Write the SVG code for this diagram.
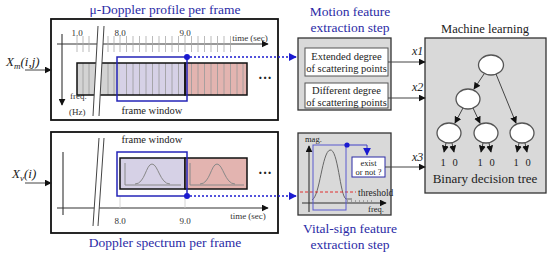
<svg xmlns="http://www.w3.org/2000/svg" width="550" height="254" viewBox="0 0 550 254" font-family="'Liberation Serif', 'DejaVu Serif', serif">
<style>
text{font-family:'Liberation Serif','DejaVu Serif',serif;fill:#222}
.title{font-size:13.5px;fill:#2b2ba6;text-anchor:middle}
.sm{font-size:9px;fill:#333}
.lbl{font-size:10.5px;text-anchor:middle}
.panel{fill:#fff;stroke:#111;stroke-width:1.8}
.gbox{fill:#d9d9d9;stroke:#333;stroke-width:1.3}
.wbox{fill:#fff;stroke:#555;stroke-width:1}
.tick{stroke:#aaa;stroke-width:0.8}
.ax{stroke:#333;stroke-width:1.1;fill:none}
.brk{stroke:#444;stroke-width:1;fill:none}
.win{fill:none;stroke:#2424b8;stroke-width:1.5}
.dot{fill:#1a1ad0}
.dots{stroke:#1a1ad0;stroke-width:1.4;stroke-dasharray:2,2;fill:none}
.conn{stroke:#444;stroke-width:1;fill:none}
.node{fill:#fff;stroke:#555;stroke-width:1.3}
.curve{fill:none;stroke:#888;stroke-width:1}
</style>
<defs>
<marker id="ah" viewBox="0 0 10 10" refX="9" refY="5" markerWidth="7" markerHeight="7" orient="auto" markerUnits="userSpaceOnUse"><path d="M0,0L10,5L0,10z" fill="#111"/></marker>
<marker id="ahb" viewBox="0 0 10 10" refX="9" refY="5" markerWidth="8" markerHeight="8" orient="auto" markerUnits="userSpaceOnUse"><path d="M0,0L10,5L0,10z" fill="#1a1ad0"/></marker>
</defs>

<!-- Top panel: micro-Doppler profile -->
<g id="micro-doppler">
<text class="title" x="165" y="14">μ-Doppler profile per frame</text>
<rect class="panel" x="51" y="19" width="227" height="101"/>
<line class="ax" x1="57" y1="44" x2="268" y2="44" marker-end="url(#ah)"/>
<g class="tick">
<line x1="77" y1="36" x2="77" y2="52"/><line x1="83" y1="36" x2="83" y2="52"/><line x1="89" y1="36" x2="89" y2="52"/>
<line x1="108" y1="36" x2="108" y2="52"/><line x1="114" y1="36" x2="114" y2="52"/><line x1="120" y1="36" x2="120" y2="52"/>
<line x1="126.5" y1="36" x2="126.5" y2="52"/><line x1="133" y1="36" x2="133" y2="52"/><line x1="139.5" y1="36" x2="139.5" y2="52"/>
<line x1="146" y1="36" x2="146" y2="52"/><line x1="152.5" y1="36" x2="152.5" y2="52"/><line x1="159" y1="36" x2="159" y2="52"/>
<line x1="165.5" y1="36" x2="165.5" y2="52"/><line x1="172" y1="36" x2="172" y2="52"/><line x1="178.5" y1="36" x2="178.5" y2="52"/>
<line x1="185" y1="36" x2="185" y2="52"/><line x1="191.5" y1="36" x2="191.5" y2="52"/><line x1="198" y1="36" x2="198" y2="52"/>
<line x1="204.5" y1="36" x2="204.5" y2="52"/><line x1="211" y1="36" x2="211" y2="52"/><line x1="217.5" y1="36" x2="217.5" y2="52"/>
<line x1="224" y1="36" x2="224" y2="52"/><line x1="230.5" y1="36" x2="230.5" y2="52"/>
</g>
<text class="sm" x="77" y="36" text-anchor="middle">1.0</text>
<text class="sm" x="120" y="36" text-anchor="middle">8.0</text>
<text class="sm" x="185" y="36" text-anchor="middle">9.0</text>
<text class="sm" x="250" y="41" text-anchor="middle" font-size="8.5">time (sec)</text>
<line class="ax" x1="62" y1="34" x2="62" y2="105" marker-end="url(#ah)"/>
<text class="sm" x="70" y="99" font-size="10">freq.</text>
<text class="sm" x="69" y="115" font-size="10">(Hz)</text>
<rect x="77" y="63" width="43" height="32" fill="#d3d3d3"/>
<rect x="120" y="63" width="65" height="32" fill="#d6d1e6"/>
<rect x="185" y="63" width="62" height="32" fill="#e3b4b0"/>
<g class="tick" style="stroke:#999">
<line x1="83" y1="63" x2="83" y2="95"/><line x1="89" y1="63" x2="89" y2="95"/>
<line x1="108" y1="63" x2="108" y2="95"/><line x1="114" y1="63" x2="114" y2="95"/>
<line x1="126.5" y1="63" x2="126.5" y2="95"/><line x1="133" y1="63" x2="133" y2="95"/><line x1="139.5" y1="63" x2="139.5" y2="95"/>
<line x1="146" y1="63" x2="146" y2="95"/><line x1="152.5" y1="63" x2="152.5" y2="95"/><line x1="159" y1="63" x2="159" y2="95"/>
<line x1="165.5" y1="63" x2="165.5" y2="95"/><line x1="172" y1="63" x2="172" y2="95"/><line x1="178.5" y1="63" x2="178.5" y2="95"/>
<line x1="191.5" y1="63" x2="191.5" y2="95"/><line x1="198" y1="63" x2="198" y2="95"/><line x1="204.5" y1="63" x2="204.5" y2="95"/>
<line x1="211" y1="63" x2="211" y2="95"/><line x1="217.5" y1="63" x2="217.5" y2="95"/><line x1="224" y1="63" x2="224" y2="95"/>
<line x1="230.5" y1="63" x2="230.5" y2="95"/><line x1="237" y1="63" x2="237" y2="95"/><line x1="243" y1="63" x2="243" y2="95"/>
</g>
<rect x="77" y="63" width="108" height="32" fill="none" stroke="#111" stroke-width="1.5"/>
<rect x="185" y="63" width="62" height="32" fill="none" stroke="#111" stroke-width="1.5"/>
<polygon points="98,26 104,26 99,116 93,116" fill="#fff"/>
<line class="brk" x1="98" y1="26" x2="93" y2="116"/>
<line class="brk" x1="104" y1="26" x2="99" y2="116"/>
<rect class="win" x="117" y="57" width="70" height="44"/>
<text x="152" y="114" font-size="10.5" text-anchor="middle">frame window</text>
<text x="265" y="83" font-size="14" text-anchor="middle" font-weight="bold">···</text>
</g>

<!-- Bottom panel: Doppler spectrum -->
<g id="doppler-spectrum">
<rect class="panel" x="51" y="132" width="227" height="101"/>
<text class="title" x="165" y="247">Doppler spectrum per frame</text>
<line class="ax" x1="63" y1="152" x2="63" y2="215"/>
<line class="ax" x1="57" y1="208" x2="268" y2="208" marker-end="url(#ah)"/>
<line x1="120" y1="196" x2="120" y2="208" stroke="#ccc" stroke-width="0.8"/>
<line x1="185" y1="196" x2="185" y2="208" stroke="#ccc" stroke-width="0.8"/>
<polygon points="99,138 104,138 98,226 93,226" fill="#fff"/>
<line class="brk" x1="99" y1="138" x2="93" y2="226"/>
<line class="brk" x1="104" y1="138" x2="98" y2="226"/>
<text class="sm" x="120" y="224" text-anchor="middle">8.0</text>
<text class="sm" x="185" y="224" text-anchor="middle">9.0</text>
<text class="sm" x="248" y="219" text-anchor="middle" font-size="8.5">time (sec)</text>
<text x="152" y="143" font-size="10.5" text-anchor="middle">frame window</text>
<rect x="120" y="158" width="65" height="31" fill="#d6d1e6" stroke="#111" stroke-width="1.5"/>
<rect x="185" y="158" width="62" height="31" fill="#e3b4b0" stroke="#111" stroke-width="1.5"/>
<path class="curve" d="M125,163V185H181M135,184C145,184 146,164 152,164C158,164 160,184 170,184"/>
<path class="curve" d="M190,163V185H244M200,184C210,184 211,164 217,164C223,164 225,184 235,184"/>
<rect class="win" x="117" y="152" width="70" height="44"/>
<text x="265" y="178" font-size="14" text-anchor="middle" font-weight="bold">···</text>
</g>

<!-- Inputs -->
<g id="input-xm">
<text x="6" y="66" font-size="13" font-style="italic">X<tspan font-size="9" dy="3">m</tspan><tspan dy="-3">(i,j)</tspan></text>
</g>
<g id="input-xv">
<text x="12" y="178" font-size="13" font-style="italic">X<tspan font-size="9" dy="3">v</tspan><tspan dy="-3">(i)</tspan></text>
</g>

<!-- Motion feature extraction step -->
<g id="motion-feature">
<text class="title" x="350" y="16">Motion feature</text>
<text class="title" x="350" y="32">extraction step</text>
<rect class="gbox" x="298" y="38" width="93" height="72"/>
<rect class="wbox" x="305" y="48" width="83" height="28"/>
<text class="lbl" x="346.5" y="60">Extended degree</text>
<text class="lbl" x="346.5" y="72">of scattering points</text>
<rect class="wbox" x="305" y="83" width="83" height="25"/>
<text class="lbl" x="346.5" y="94">Different degree</text>
<text class="lbl" x="346.5" y="106">of scattering points</text>
</g>

<!-- Vital-sign feature extraction step -->
<g id="vital-feature">
<rect class="gbox" x="298" y="133" width="93" height="82"/>
<text class="title" x="350" y="233">Vital-sign feature</text>
<text class="title" x="350" y="249">extraction step</text>
<text x="305" y="142" font-size="8.5" fill="#333">mag.</text>
<line class="ax" x1="309" y1="212" x2="309" y2="146" marker-end="url(#ah)"/>
<line class="ax" x1="302" y1="203" x2="386" y2="203" marker-end="url(#ah)"/>
<text x="376" y="212" font-size="8.5" fill="#333" text-anchor="middle">freq.</text>
<line x1="347" y1="201" x2="375" y2="201" stroke="#666" stroke-width="1" stroke-dasharray="1,3"/>
<path d="M312,200C320,196 322,152 330,150C338,148 340,196 346,199H352" fill="none" stroke="#666" stroke-width="1"/>
<line x1="300" y1="192" x2="356" y2="192" stroke="#e03030" stroke-width="1" stroke-dasharray="3,2"/>
<text x="358" y="196" font-size="9.5" fill="#d02828">threshold</text>
<rect x="313" y="145" width="33" height="65" fill="none" stroke="#5a5ad0" stroke-width="1"/>
<path d="M347,145H367V155" fill="none" stroke="#4040c8" stroke-width="1" marker-end="url(#ahb)"/>
<circle class="dot" cx="347" cy="145" r="2.6"/>
<rect x="352" y="157" width="33" height="20" fill="#fff" stroke="#2b2ba6" stroke-width="1"/>
<text x="368.5" y="165.5" font-size="8.5" fill="#2b2ba6" text-anchor="middle">exist</text>
<text x="368.5" y="175" font-size="8.5" fill="#2b2ba6" text-anchor="middle">or not ?</text>
</g>

<!-- Machine learning -->
<g id="machine-learning">
<text x="485" y="33" font-size="12.5" text-anchor="middle">Machine learning</text>
<rect class="gbox" x="425" y="38" width="121" height="155"/>
<ellipse class="node" cx="491" cy="65" rx="12.5" ry="10"/>
<ellipse class="node" cx="468" cy="99" rx="12" ry="10"/>
<ellipse class="node" cx="449" cy="133" rx="12" ry="10"/>
<ellipse class="node" cx="486" cy="133" rx="12" ry="10"/>
<ellipse class="node" cx="522" cy="133" rx="12" ry="10"/>
<g class="conn">
<line x1="484" y1="74" x2="474" y2="89" marker-end="url(#ah)"/>
<line x1="496" y1="74" x2="516" y2="123" marker-end="url(#ah)"/>
<line x1="463" y1="108" x2="455" y2="123" marker-end="url(#ah)"/>
<line x1="473" y1="108" x2="480" y2="123" marker-end="url(#ah)"/>
<line x1="446" y1="143" x2="444" y2="152" marker-end="url(#ah)"/>
<line x1="452" y1="143" x2="454" y2="152" marker-end="url(#ah)"/>
<line x1="483" y1="143" x2="481" y2="152" marker-end="url(#ah)"/>
<line x1="489" y1="143" x2="491" y2="152" marker-end="url(#ah)"/>
<line x1="519" y1="143" x2="517" y2="152" marker-end="url(#ah)"/>
<line x1="525" y1="143" x2="527" y2="152" marker-end="url(#ah)"/>
</g>
<g font-size="10.5" text-anchor="middle">
<text x="443" y="166">1</text><text x="455" y="166">0</text>
<text x="480" y="166">1</text><text x="492" y="166">0</text>
<text x="516" y="166">1</text><text x="528" y="166">0</text>
</g>
<text x="485" y="183" font-size="13" text-anchor="middle">Binary decision tree</text>
</g>

<!-- Connectors -->
<g id="connectors">
<line class="conn" x1="25" y1="70" x2="51" y2="70" marker-end="url(#ah)"/>
<line class="conn" x1="25" y1="183" x2="51" y2="183" marker-end="url(#ah)"/>
<line class="dots" x1="190" y1="57" x2="296" y2="57" marker-end="url(#ahb)"/>
<circle class="dot" cx="187" cy="57" r="3"/>
<line class="dots" x1="190" y1="196" x2="296" y2="196" marker-end="url(#ahb)"/>
<circle class="dot" cx="187" cy="196" r="3"/>
<line class="conn" x1="388" y1="62" x2="425" y2="62" marker-end="url(#ah)"/>
<line class="conn" x1="388" y1="98" x2="425" y2="98" marker-end="url(#ah)"/>
<line class="conn" x1="385" y1="167" x2="425" y2="167" marker-end="url(#ah)"/>
<text x="412" y="55" font-size="12" font-style="italic">x1</text>
<text x="412" y="91" font-size="12" font-style="italic">x2</text>
<text x="412" y="161" font-size="12" font-style="italic">x3</text>
</g>
</svg>
